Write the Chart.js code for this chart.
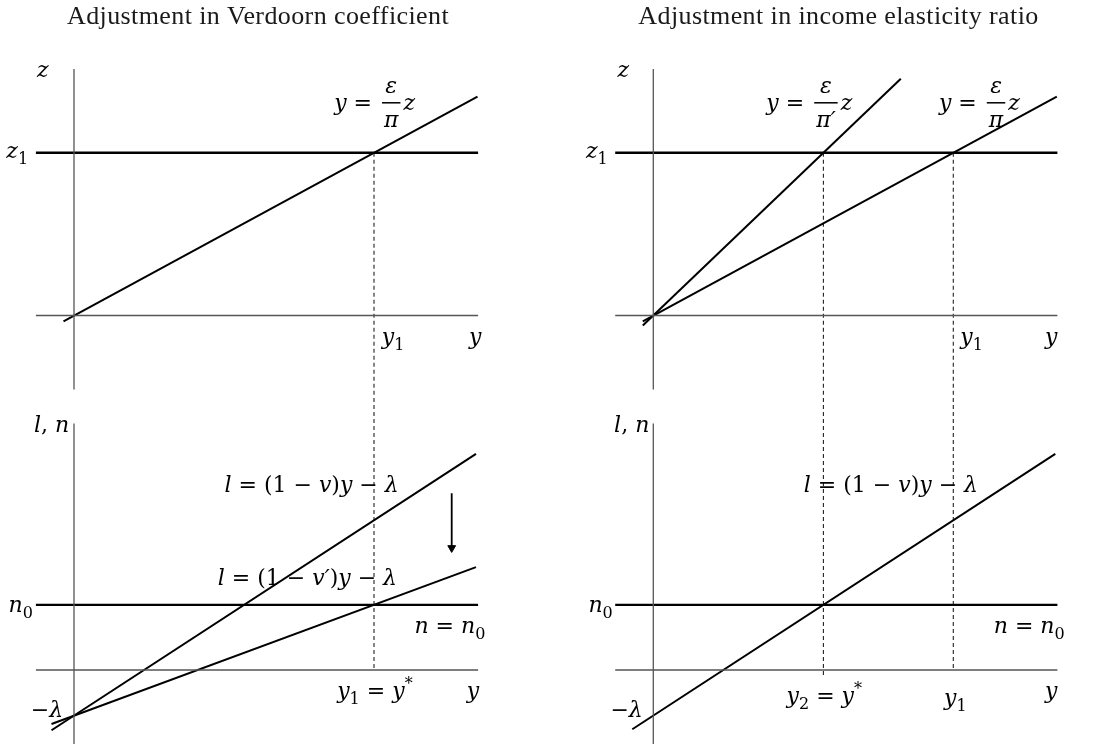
<!DOCTYPE html>
<html>
<head>
<meta charset="utf-8">
<title>Verdoorn coefficient and income elasticity adjustments</title>
<script src="https://cdn.jsdelivr.net/npm/chart.js@4.4.1/dist/chart.umd.min.js"></script>
<style>
  body { margin: 0; background: #fff; }
  canvas { position: absolute; }
</style>
</head>
<body>
<canvas id="topLeft" width="546" height="395" style="left:0;top:0"></canvas>
<canvas id="topRight" width="547" height="395" style="left:546px;top:0"></canvas>
<canvas id="bottomLeft" width="546" height="351" style="left:0;top:395px"></canvas>
<canvas id="bottomRight" width="547" height="351" style="left:546px;top:395px"></canvas>
<script>
// Equilibrium values (horizontal axis is output growth y)
const y1 = 10;
const y2 = 5.67;
const z1 = 5;
const n0 = 2;

// End points of the sloped schedules, [y, value]
const bopPi = [[-0.35, -0.18], [13.45, 6.72]];        // y = (ε/π) z
const bopPiPrime = [[-0.35, -0.31], [8.25, 7.27]];    // y = (ε/π') z
const labourV = [[-0.75, -1.85], [13.4, 6.64]];       // l = (1 - v) y - λ
const labourVPrime = [[-0.75, -1.66], [13.4, 3.16]];  // l = (1 - v') y - λ
const labourRight = [[-0.7, -1.82], [13.4, 6.64]];

// Extent of the drawn axes
const axisY = [-1.27, 13.47];
const axisV = [-2.27, 7.57];

// Arrow showing the shift of the labour line
const shiftArrow = [[12.59, 5.43], [12.59, 3.75]];

const UNIT_X = 30, UNIT_Y = 32.56;
const MATH_FONT = '"DejaVu Serif", serif';
const SIZE = 22, SMALL = 16, OP_GAP = 7;

const pts = arr => arr.map(([x, y]) => ({x, y}));

function seg(data, style) {
  return Object.assign({data: pts(data), showLine: true, pointRadius: 0, fill: false, tension: 0}, style);
}
const AXIS = {borderColor: '#555', borderWidth: 1.3};
const LEVEL = {borderColor: '#000', borderWidth: 2.4};
const CURVE = {borderColor: '#000', borderWidth: 2};
const DASH = {borderColor: '#222', borderWidth: 1.1, borderDash: [4, 3]};

function axes() {
  return [
    seg([[axisY[0], 0], [axisY[1], 0]], AXIS),
    seg([[0, axisV[0]], [0, axisV[1]]], AXIS)
  ];
}

// math tokens
const I = t => ({t, it: true});
const R = t => ({t});
const OP = t => ({t, op: true});
const SUB = t => ({t, sub: true});
const SUP = t => ({t, sup: true});
const FR = (n, d) => ({frac: [n, d]});

function mathFont(it, size) {
  return (it ? 'italic ' : '') + size + 'px ' + MATH_FONT;
}

function drawMath(ctx, tokens, px, base, align) {
  const parts = [];
  let w = 0;
  tokens.forEach(tok => {
    if (tok.frac) {
      ctx.font = mathFont(true, SIZE);
      const fw = Math.max(ctx.measureText(tok.frac[0]).width, ctx.measureText(tok.frac[1]).width) + 4;
      parts.push({tok, x: w + 3, w: fw});
      w += fw + 6;
    } else {
      const small = tok.sub || tok.sup;
      ctx.font = mathFont(tok.it, small ? SMALL : SIZE);
      const gap = tok.op ? OP_GAP : 0;
      const tw = ctx.measureText(tok.t).width;
      parts.push({tok, x: w + gap, w: tw});
      w += tw + 2 * gap;
    }
  });
  const x0 = align === 'left' ? px : align === 'right' ? px - w : px - w / 2;
  parts.forEach(p => {
    const tok = p.tok;
    if (tok.frac) {
      ctx.font = mathFont(true, SIZE);
      ctx.textAlign = 'center';
      const cx = x0 + p.x + p.w / 2;
      ctx.fillText(tok.frac[0], cx, base - 17);
      ctx.fillText(tok.frac[1], cx, base + 17);
      ctx.fillRect(x0 + p.x, base - 8, p.w, 1.5);
    } else {
      ctx.font = mathFont(tok.it, (tok.sub || tok.sup) ? SMALL : SIZE);
      ctx.textAlign = 'left';
      const dy = tok.sub ? 6 : tok.sup ? -9 : 0;
      ctx.fillText(tok.t, x0 + p.x, base + dy);
    }
  });
}

const mathLabels = {
  id: 'mathLabels',
  afterDatasetsDraw(chart, args, opts) {
    const ctx = chart.ctx;
    const sx = chart.scales.x, sy = chart.scales.y;
    ctx.save();
    ctx.fillStyle = '#000';
    ctx.textBaseline = 'alphabetic';
    if (opts.title) {
      ctx.font = '26px "Liberation Serif", serif';
      ctx.letterSpacing = '0.4px';
      ctx.fillStyle = '#1a1a1a';
      ctx.textAlign = 'center';
      ctx.fillText(opts.title.text, opts.title.x, opts.title.y);
      ctx.letterSpacing = '0px';
      ctx.fillStyle = '#000';
    }
    (opts.items || []).forEach(item => {
      drawMath(ctx, item.m, sx.getPixelForValue(item.x), sy.getPixelForValue(item.y), item.align);
    });
    ctx.restore();
  }
};

function makePanel(id, originX, originY, datasets, labels) {
  const cv = document.getElementById(id);
  const w = cv.width, h = cv.height;
  return new Chart(cv, {
    type: 'scatter',
    data: {datasets},
    options: {
      responsive: false,
      animation: false,
      layout: {padding: 0, autoPadding: false},
      scales: {
        x: {type: 'linear', display: false, min: -originX / UNIT_X, max: (w - originX) / UNIT_X},
        y: {type: 'linear', display: false, min: -(h - originY) / UNIT_Y, max: originY / UNIT_Y}
      },
      plugins: {
        legend: {display: false},
        tooltip: {enabled: false},
        mathLabels: labels
      }
    },
    plugins: [mathLabels]
  });
}

const lineLabel = prime => [I('l'), OP('='), R('('), R('1'), OP('−'), I(prime ? 'v′' : 'v'), R(')'), I('y'), OP('−'), I('λ')];

// Top left: balance of payments constraint
makePanel('topLeft', 74, 315.5, [
  ...axes(),
  seg([[axisY[0], z1], [axisY[1], z1]], LEVEL),
  seg(bopPi, CURVE),
  seg([[y1, z1], [y1, -3]], DASH)
], {
  title: {text: 'Adjustment in Verdoorn coefficient', x: 258, y: 23.5},
  items: [
    {x: -1.04, y: 7.32, align: 'center', m: [I('z')]},
    {x: -1.53, y: 4.84, align: 'right', m: [I('z'), SUB('1')]},
    {x: 10.02, y: 6.31, align: 'center', m: [I('y'), OP('='), FR('ε', 'π'), I('z')]},
    {x: y1 + 0.26, y: -0.86, align: 'left', m: [I('y'), SUB('1')]},
    {x: 13.37, y: -0.86, align: 'center', m: [I('y')]}
  ]
});

// Top right: two elasticity ratios
makePanel('topRight', 107.3, 315.5, [
  ...axes(),
  seg([[axisY[0], z1], [axisY[1], z1]], LEVEL),
  seg(bopPiPrime, CURVE),
  seg(bopPi, CURVE),
  seg([[y2, z1], [y2, -3]], DASH),
  seg([[y1, z1], [y1, -3]], DASH)
], {
  title: {text: 'Adjustment in income elasticity ratio', x: 292.5, y: 23.5},
  items: [
    {x: -1.0, y: 7.32, align: 'center', m: [I('z')]},
    {x: -1.52, y: 4.84, align: 'right', m: [I('z'), SUB('1')]},
    {x: 5.2, y: 6.31, align: 'center', m: [I('y'), OP('='), FR('ε', 'π′'), I('z')]},
    {x: 10.87, y: 6.31, align: 'center', m: [I('y'), OP('='), FR('ε', 'π'), I('z')]},
    {x: y1 + 0.23, y: -0.86, align: 'left', m: [I('y'), SUB('1')]},
    {x: 13.26, y: -0.86, align: 'center', m: [I('y')]}
  ]
});

// Bottom left: labour market with a lower Verdoorn line
makePanel('bottomLeft', 74, 275, [
  ...axes(),
  seg([[axisY[0], n0], [axisY[1], n0]], LEVEL),
  seg(labourV, CURVE),
  seg(labourVPrime, CURVE),
  seg([[y1, 9], [y1, 0]], DASH),
  Object.assign(seg(shiftArrow, {borderColor: '#000', borderWidth: 1.8}), {
    pointRadius: [0, 4.5], pointStyle: 'triangle', rotation: [0, 180],
    pointBackgroundColor: '#000', pointBorderColor: '#000', pointBorderWidth: 1
  })
], {
  items: [
    {x: -0.75, y: 7.32, align: 'center', m: [I('l'), R(', '), I('n')]},
    {x: -1.37, y: 1.78, align: 'right', m: [I('n'), SUB('0')]},
    {x: -0.36, y: -1.43, align: 'right', m: [R('−'), I('λ')]},
    {x: 7.92, y: 5.48, align: 'center', m: lineLabel(false)},
    {x: 7.78, y: 2.61, align: 'center', m: lineLabel(true)},
    {x: 12.53, y: 1.13, align: 'center', m: [I('n'), OP('='), I('n'), SUB('0')]},
    {x: y1 + 0.03, y: -0.87, align: 'center', m: [I('y'), SUB('1'), OP('='), I('y'), SUP('*')]},
    {x: 13.3, y: -0.86, align: 'center', m: [I('y')]}
  ]
});

// Bottom right: labour market, lower equilibrium growth
makePanel('bottomRight', 107.3, 275, [
  ...axes(),
  seg([[axisY[0], n0], [axisY[1], n0]], LEVEL),
  seg(labourRight, CURVE),
  seg([[y2, 9], [y2, -0.15]], DASH),
  seg([[y1, 9], [y1, 0]], DASH)
], {
  items: [
    {x: -0.72, y: 7.32, align: 'center', m: [I('l'), R(', '), I('n')]},
    {x: -1.35, y: 1.78, align: 'right', m: [I('n'), SUB('0')]},
    {x: -0.35, y: -1.43, align: 'right', m: [R('−'), I('λ')]},
    {x: 7.92, y: 5.48, align: 'center', m: lineLabel(false)},
    {x: 12.53, y: 1.13, align: 'center', m: [I('n'), OP('='), I('n'), SUB('0')]},
    {x: y2 + 0.03, y: -1.02, align: 'center', m: [I('y'), SUB('2'), OP('='), I('y'), SUP('*')]},
    {x: y1 + 0.07, y: -1.07, align: 'center', m: [I('y'), SUB('1')]},
    {x: 13.26, y: -0.86, align: 'center', m: [I('y')]}
  ]
});
</script>
</body>
</html>
